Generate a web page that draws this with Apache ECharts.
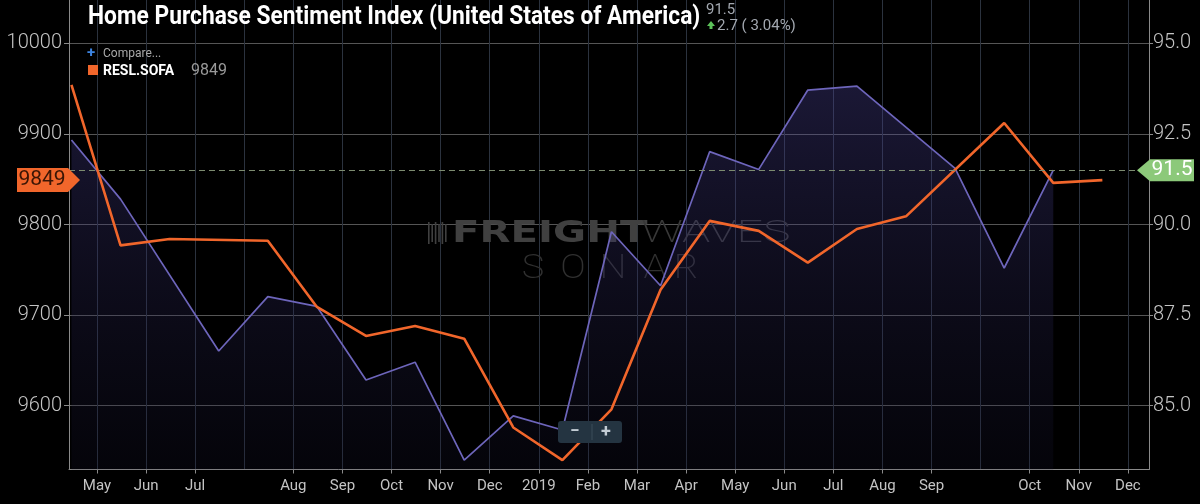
<!DOCTYPE html>
<html>
<head>
<meta charset="utf-8">
<title>Home Purchase Sentiment Index</title>
<style>
  html, body { margin: 0; padding: 0; background: #000; }
  #chart { width: 1200px; height: 504px; }
</style>
<script src="https://cdn.jsdelivr.net/npm/echarts@6/dist/echarts.min.js"></script>
</head>
<body>
<div id="chart"></div>
<script>
// x positions in month steps; 0 is the first "May" tick (2018)
const slotX = [-0.52, 0.48, 1.48, 2.48, 3.48, 4.48, 5.48, 6.48, 7.48, 8.48, 9.48,
  10.48, 11.48, 12.48, 13.48, 14.48, 15.48, 16.48, 17.48, 18.48, 19.48, 20.48];

// Home Purchase Sentiment Index (right axis)
const sentiment = [92.33, 90.70, null, 86.51, 88.01, 87.74, 85.71, 86.20, 83.50, 84.72, 84.33,
  89.80, 88.31, 92.01, 91.52, 93.71, 93.82, null, 91.55, 88.80, 91.50, null];

// RESL.SOFA (left axis)
const sofa = [9954, 9777, 9784, null, 9782, 9709, 9677, 9688, 9674, 9576, 9540,
  9596, 9728, 9804, 9793, 9758, 9795, 9809, null, 9912, 9846, 9849];

// axis labels as printed, empty slots have a grid line but no label
const tickLabels = ['May', 'Jun', 'Jul', '', 'Aug', 'Sep', 'Oct', 'Nov', 'Dec', '2019', 'Feb',
  'Mar', 'Apr', 'May', 'Jun', 'Jul', 'Aug', 'Sep', '', 'Oct', 'Nov', 'Dec'];
const sofaTicks = [9600, 9700, 9800, 9900, 10000];
const sentimentTicks = [85, 87.5, 90, 92.5, 95];

const lastSentiment = 91.5;
const lastSofa = 9849;
const changeText = '2.7 ( 3.04%)';

const allIdx = tickLabels.map((_, i) => i);
const labeledIdx = allIdx.filter((i) => tickLabels[i] !== '');
const toPairs = (vals) => slotX.map((x, i) => [x, vals[i]]).filter((p) => p[1] != null);

const axisGray = '#8a8a8a';
const labelGray = '#c4c4c4';

const chart = echarts.init(document.getElementById('chart'));

const option = {
  backgroundColor: '#000',
  animation: false,
  grid: { left: 69, right: 51, top: 0, bottom: 34.5 },
  xAxis: [
    {
      type: 'value', min: -0.57, max: 21.43, position: 'bottom',
      axisLine: { onZero: false, lineStyle: { color: axisGray } },
      axisTick: { show: true, length: 4, lineStyle: { color: axisGray }, customValues: labeledIdx },
      axisLabel: {
        customValues: labeledIdx,
        formatter: (v) => tickLabels[Math.round(v)],
        color: labelGray, fontSize: 15, fontFamily: 'Roboto', margin: 9,
      },
      splitLine: { show: false },
    },
    {
      type: 'value', min: -0.57, max: 21.43, position: 'bottom',
      axisLine: { show: false, onZero: false },
      axisTick: { show: false, customValues: allIdx },
      axisLabel: { show: false },
      splitLine: { show: true, lineStyle: { color: '#2b323e', width: 1 } },
    },
  ],
  yAxis: [
    {
      type: 'value', min: 9529.6, max: 10047.8, position: 'left',
      axisLine: { show: true, onZero: false, lineStyle: { color: axisGray } },
      axisTick: { show: true, length: 5, lineStyle: { color: axisGray }, customValues: sofaTicks },
      axisLabel: {
        customValues: sofaTicks, formatter: (v) => String(v),
        color: labelGray, fontSize: 20, fontWeight: 300, fontFamily: 'Roboto', margin: 7,
      },
      splitLine: { show: true, lineStyle: { color: '#555', width: 1 } },
    },
    {
      type: 'value', min: 83.24, max: 96.195, position: 'right',
      axisLine: { show: true, onZero: false, lineStyle: { color: axisGray } },
      axisTick: { show: true, length: 4, lineStyle: { color: axisGray }, customValues: sentimentTicks },
      axisLabel: {
        customValues: sentimentTicks, formatter: (v) => v.toFixed(1),
        color: labelGray, fontSize: 20, fontWeight: 300, fontFamily: 'Roboto', margin: 4,
      },
      splitLine: { show: false },
    },
  ],
  series: [
    {
      name: 'Home Purchase Sentiment Index',
      type: 'line', xAxisIndex: 0, yAxisIndex: 1, z: 2,
      data: toPairs(sentiment),
      showSymbol: false,
      lineStyle: { color: '#6d65bb', width: 1.7 },
      areaStyle: {
        color: new echarts.graphic.LinearGradient(0, 0, 0, 1, [
          { offset: 0, color: 'rgba(76, 68, 152, 0.5)' },
          { offset: 1, color: 'rgba(22, 20, 48, 0.3)' },
        ]),
      },
      markLine: {
        silent: true, symbol: ['none', 'none'],
        label: { show: false },
        lineStyle: { type: [6, 4], color: '#7d8c70', width: 1 },
        data: [{ yAxis: lastSentiment }],
      },
    },
    {
      name: 'RESL.SOFA',
      type: 'line', xAxisIndex: 0, yAxisIndex: 0, z: 3,
      data: toPairs(sofa),
      showSymbol: false,
      lineStyle: { color: '#f1662b', width: 2.6 },
    },
  ],
};
chart.setOption(option);

// overlays: title, legend, value tags, watermark, zoom buttons
const ySofa = chart.convertToPixel({ yAxisIndex: 0 }, lastSofa);
const ySent = chart.convertToPixel({ yAxisIndex: 1 }, lastSentiment);

const sonarLetters = ['S', 'O', 'N', 'A', 'R'];
const sonarX = [533, 573, 613, 655, 686];

const graphics = [
  // watermark
  { type: 'text', x: 452, y: 234, z: 1, scaleX: 1.3, style: { text: 'FREIGHT', fill: '#404040', font: '900 31px "DejaVu Sans"', verticalAlign: 'middle' } },
  { type: 'text', x: 641, y: 234, z: 1, scaleX: 1.5, style: { text: 'WAVES', fill: '#383838', font: '200 31px "Roboto"', verticalAlign: 'middle' } },
  ...sonarLetters.map((ch, i) => ({
    type: 'text', x: sonarX[i], y: 270, z: 1, scaleX: 1.15,
    style: { text: ch, fill: '#303030', font: '200 33px "Roboto"', align: 'center', verticalAlign: 'middle' },
  })),
  ...[0, 1, 2, 3, 4, 5].map((i) => ({
    type: 'rect', z: 1, shape: { x: 428 + i * 3.4, y: i % 2 ? 224 : 222, width: 1.6, height: i % 2 ? 18 : 22 },
    style: { fill: '#404040' },
  })),

  // title block
  { type: 'text', x: 88, y: 17, z: 10, scaleX: 0.875, style: { text: 'Home Purchase Sentiment Index (United States of America)', fill: '#fff', font: 'bold 26px "Roboto"', verticalAlign: 'middle' } },
  { type: 'text', x: 706, y: 10, z: 10, style: { text: String(lastSentiment), fill: '#a3a8b0', font: '15px "Roboto"', verticalAlign: 'middle' } },
  { type: 'polygon', z: 10, shape: { points: [[711, 21], [715, 26], [712.5, 26], [712.5, 29], [709.5, 29], [709.5, 26], [707, 26]] }, style: { fill: '#5cc25a' } },
  { type: 'text', x: 717, y: 26, z: 10, style: { text: changeText, fill: '#a3a8b0', font: '15px "Roboto"', verticalAlign: 'middle' } },

  // legend
  { type: 'text', x: 87, y: 53, z: 10, style: { text: '+', fill: '#3d84e0', font: 'bold 15px "Roboto"', verticalAlign: 'middle' } },
  { type: 'text', x: 103, y: 54, z: 10, style: { text: 'Compare...', fill: '#a9a9a9', font: '12px "Roboto"', verticalAlign: 'middle' } },
  { type: 'rect', z: 10, shape: { x: 88, y: 65, width: 10, height: 10 }, style: { fill: '#f1662b' } },
  { type: 'text', x: 103, y: 71, z: 10, style: { text: 'RESL.SOFA', fill: '#fff', font: 'bold 14px "Roboto"', verticalAlign: 'middle' } },
  { type: 'text', x: 191, y: 71, z: 10, style: { text: String(lastSofa), fill: '#9a9a9a', font: '16px "Roboto"', verticalAlign: 'middle' } },

  // last value tags
  { type: 'polygon', z: 10, shape: { points: [[17, ySofa - 12], [68, ySofa - 12], [80, ySofa], [68, ySofa + 12], [17, ySofa + 12]] }, style: { fill: '#f1662b' } },
  { type: 'text', x: 42, y: ySofa, z: 11, style: { text: String(lastSofa), fill: '#3a1505', font: '21px "Roboto"', align: 'center', verticalAlign: 'middle' } },
  { type: 'polygon', z: 10, shape: { points: [[1137, ySent], [1150, ySent - 11], [1194, ySent - 11], [1194, ySent + 11], [1150, ySent + 11]] }, style: { fill: '#8cc97a' } },
  { type: 'text', x: 1172, y: ySent, z: 11, style: { text: String(lastSentiment), fill: '#fff', font: '21px "Roboto"', align: 'center', verticalAlign: 'middle' } },

  // zoom buttons
  { type: 'rect', z: 10, shape: { x: 558, y: 421, width: 64, height: 22, r: 3 }, style: { fill: '#243441' } },
  { type: 'rect', z: 11, shape: { x: 591.5, y: 424, width: 1, height: 16 }, style: { fill: '#3b4c5a' } },
  { type: 'text', x: 575, y: 432, z: 11, style: { text: '−', fill: '#c3ccd4', font: 'bold 17px "Roboto"', align: 'center', verticalAlign: 'middle' } },
  { type: 'text', x: 606, y: 432, z: 11, style: { text: '+', fill: '#c3ccd4', font: 'bold 18px "Roboto"', align: 'center', verticalAlign: 'middle' } },
];

chart.setOption({ graphic: graphics });
</script>
</body>
</html>
